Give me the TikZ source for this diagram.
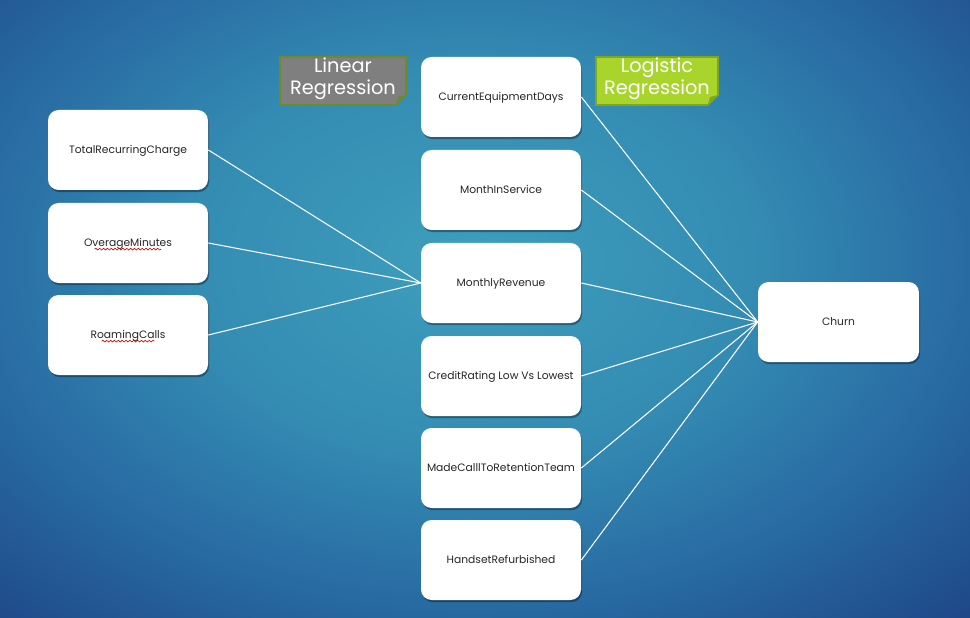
\documentclass[tikz,border=0pt]{standalone}
\usepackage{fontspec}
\setmainfont{Poppins}
\usetikzlibrary{shadows,decorations.pathmorphing}
\definecolor{bgcenter}{HTML}{3E9EBD}
\definecolor{bgmid}{HTML}{348CB3}
\definecolor{bgedge}{HTML}{2768A1}
\definecolor{bgcorner}{HTML}{1E4587}
\definecolor{lingray}{HTML}{7F7F7F}
\definecolor{linborder}{HTML}{6E8A2A}
\definecolor{loggreen}{HTML}{A8D42C}
\definecolor{logborder}{HTML}{7EA61E}
\pgfdeclareradialshading{bgshade}{\pgfpoint{0bp}{0bp}}{color(0bp)=(bgcenter); color(13bp)=(bgmid); color(24bp)=(bgedge); color(34bp)=(bgcorner); color(50bp)=(bgcorner)}
\tikzset{
  varbox/.style={draw=none, fill=white, rounded corners=6pt, minimum width=160*0.02cm, minimum height=80*0.02cm, inner sep=0pt,
    font=\fontsize{6.1}{7}\selectfont, text=black!85, text depth=0.6pt,
    drop shadow={shadow xshift=0.6pt, shadow yshift=-1.2pt, opacity=0.35, fill=black}},
  link/.style={draw=white, line width=0.6pt},
  tag/.style={font=\fontsize{11}{12.5}\selectfont, text=white, align=center, line width=1pt},
  squig/.style={draw=red!80!black, line width=0.35pt, decorate, decoration={snake, amplitude=0.5pt, segment length=2.2pt}}
}
\begin{document}
\begin{tikzpicture}[x=0.02cm,y=-0.02cm]
\useasboundingbox (0,0) rectangle (970,618);
\begin{scope}
\clip (0,0) rectangle (970,618);
\shade[shading=bgshade] (-70,-110) rectangle (1010,630);
\end{scope}
% tags
\fill[lingray] (280,57) -- (406,57) -- (406,95) -- (396,105) -- (280,105) -- cycle;
\draw[linborder, line width=1pt] (280,57) -- (406,57) -- (406,95) -- (396,105) -- (280,105) -- cycle;
\fill[linborder] (406,95) -- (396,105) -- (398,97) -- cycle;
\node[tag] (lin) at (343,79) {Linear\\Regression};
\fill[loggreen] (596,57) -- (718,57) -- (718,95) -- (708,105) -- (596,105) -- cycle;
\draw[logborder, line width=1pt] (596,57) -- (718,57) -- (718,95) -- (708,105) -- (596,105) -- cycle;
\fill[logborder] (718,95) -- (708,105) -- (710,97) -- cycle;
\node[tag] (log) at (657,79) {Logistic\\Regression};
% left column
\node[varbox] (trc) at (128,150) {TotalRecurringCharge};
\node[varbox] (om) at (128,243) {OverageMinutes};
\node[varbox] (rc) at (128,335) {RoamingCalls};
% middle column
\node[varbox] (ced) at (501,97) {CurrentEquipmentDays};
\node[varbox] (mis) at (501,190) {MonthInService};
\node[varbox] (mr) at (501,283) {MonthlyRevenue};
\node[varbox] (cr) at (501,376) {CreditRating Low Vs Lowest};
\node[varbox] (mc) at (501,468) {MadeCalllToRetentionTeam};
\node[varbox] (hr) at (501,560) {HandsetRefurbished};
% target
\node[varbox, minimum width=161*0.02cm] (churn) at (838.5,322) {Churn};
% spell-check underlines
\draw[squig] ([xshift=-19pt,yshift=-3.5pt]om.center) -- ([xshift=19pt,yshift=-3.5pt]om.center);
\draw[squig] ([xshift=-15pt,yshift=-3.5pt]rc.center) -- ([xshift=15pt,yshift=-3.5pt]rc.center);
% connectors
\foreach \s in {trc,om,rc} \draw[link] (\s.east) -- (mr.west);
\foreach \s in {ced,mis,mr,cr,mc,hr} \draw[link] (\s.east) -- (churn.west);
\end{tikzpicture}
\end{document}
